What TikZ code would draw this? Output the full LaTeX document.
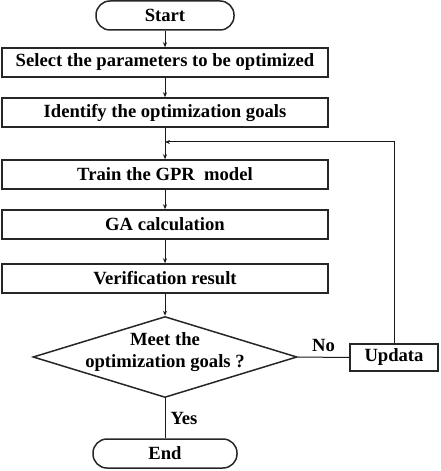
\documentclass[tikz,border=0pt]{standalone}
\usepackage{fontspec}
\setmainfont{Liberation Serif}
\usetikzlibrary{shapes.geometric,arrows.meta}
\newcommand{\flowfont}{\bfseries\fontsize{18.7}{22}\selectfont}
\begin{document}
\begin{tikzpicture}[x=1bp,y=-1bp,
  box/.style={draw=black!85,line width=1.5bp,minimum width=326bp,minimum height=29bp,inner sep=0pt,font=\flowfont},
  term/.style={draw=black!85,line width=1.5bp,rounded corners=14bp,minimum height=29bp,inner sep=0pt,font=\flowfont},
  dec/.style={draw=black!85,line width=1.5bp,diamond,minimum width=264bp,minimum height=81bp,inner sep=0pt},
  ubox/.style={draw=black!85,line width=1.5bp,minimum width=88bp,minimum height=27bp,inner sep=0pt,font=\flowfont},
  conn/.style={draw=black!90,line width=1bp},
  arr/.style={conn,-{Stealth[length=5bp,width=4bp]}},
  lbl/.style={font=\flowfont,inner sep=0pt}]
\useasboundingbox (0,0) rectangle (441,471);
\node[term,minimum width=138bp] (start) at (165,15.5) {Start};
\node[box] (sel) at (165,62.5) {Select the parameters to be optimized};
\node[box] (ide) at (165,112.5) {Identify the optimization goals};
\node[box] (tra) at (165,174.5) {Train the GPR\ \ model};
\node[box] (ga) at (165,224.5) {GA calculation};
\node[box] (ver) at (165,278.5) {Verification result};
\node[dec,label={[lbl,align=center,yshift=5bp]center:{Meet the\\optimization goals ?}}] (dia) at (165,357) {};
\node[ubox] (upd) at (394,357.5) {Updata};
\node[term,minimum width=144bp] (end) at (165,453.5) {End};
\coordinate (join) at (165,142);
\draw[arr] (start) -- (sel);
\draw[arr] (sel) -- (ide);
\draw[arr] (ide) -- (tra);
\draw[arr] (tra) -- (ga);
\draw[arr] (ga) -- (ver);
\draw[arr] (ver) -- (dia);
\draw[conn] (dia.east) -- (upd.west) node[lbl,pos=0.5,above=5bp] {No};
\draw[arr] (upd.north) |- (join);
\draw[conn] (dia.south) -- (end.north) node[lbl,pos=0.5,right=5bp] {Yes};
\end{tikzpicture}
\end{document}
